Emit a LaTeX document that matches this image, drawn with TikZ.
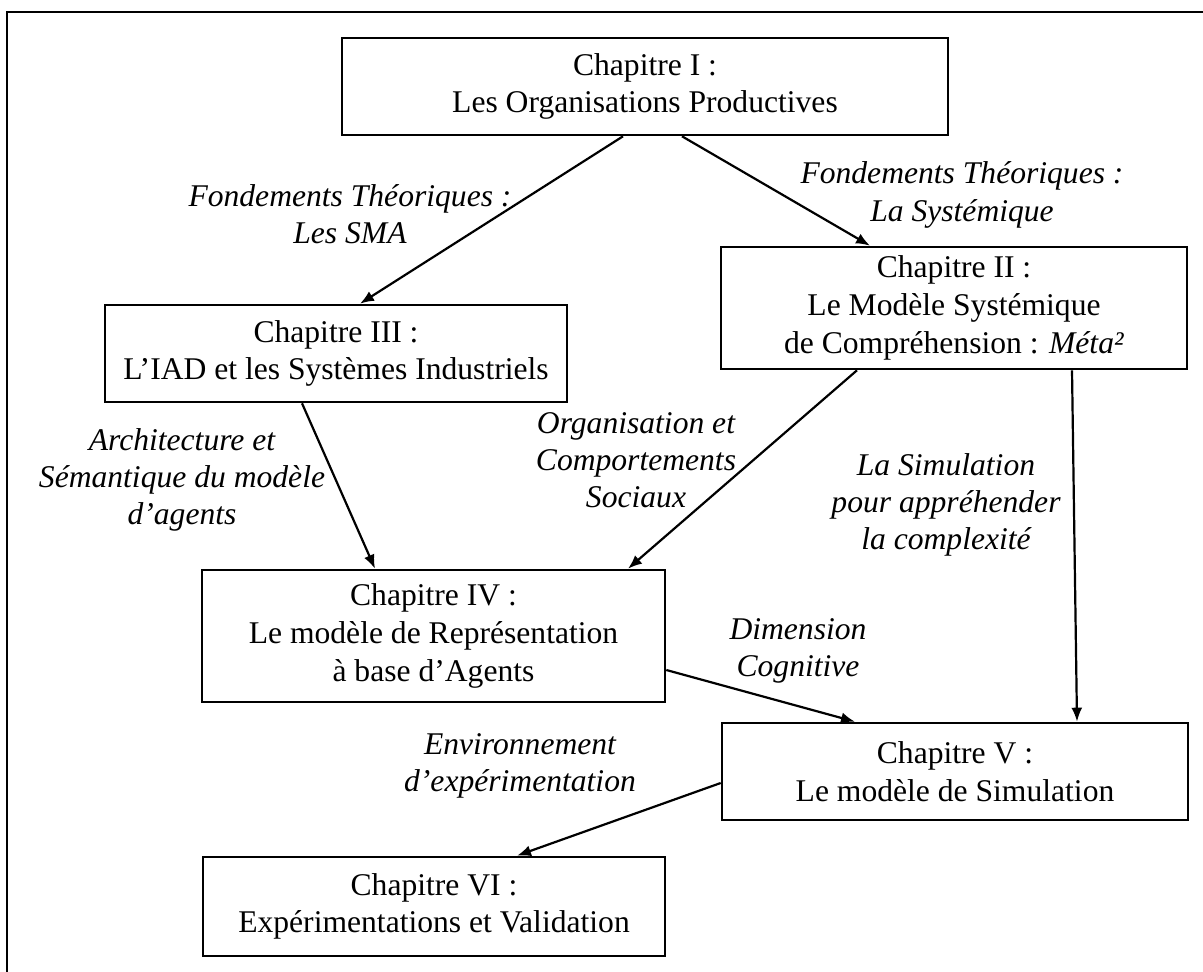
\documentclass[tikz,border=0pt]{standalone}
\usepackage{fontspec}
\setmainfont{Liberation Serif}
\usetikzlibrary{arrows.meta}

\begin{document}
\begin{tikzpicture}[x=0.5pt, y=-0.5pt,
    chap/.style={draw, line width=1.3pt, align=center, inner sep=0pt,
                 font=\fontsize{15.8}{18.8}\selectfont},
    lien/.style={align=center, inner sep=0pt,
                 font=\fontsize{15.8}{18.6}\selectfont\itshape},
    fleche/.style={-{Latex[length=7pt,width=5.5pt]}, line width=1.1pt}]

    % Page frame (only top and left sides show)
    \useasboundingbox (0,0) rectangle (1203,972);
    \draw[line width=1.4pt] (7,972) -- (7,12) -- (1203,12);

    % Chapters
    \node[chap, minimum width=303pt, minimum height=48.5pt] (ch1) at (645,86.5)
        {Chapitre I :\\Les Organisations Productives};
    \node[chap, minimum width=233pt, minimum height=61pt] (ch2) at (954,308)
        {Chapitre II :\\Le Modèle Systémique\\de Compréhension : \textit{Méta²}};
    \node[chap, minimum width=231pt, minimum height=48.5pt] (ch3) at (336,353.5)
        {Chapitre III :\\L’IAD et les Systèmes Industriels};
    \node[chap, minimum width=231.5pt, minimum height=66pt] (ch4) at (433.5,636)
        {Chapitre IV :\\Le modèle de Représentation\\à base d’Agents};
    \node[chap, minimum width=233pt, minimum height=48.5pt] (ch5) at (955,771.5)
        {Chapitre V :\\Le modèle de Simulation};
    \node[chap, minimum width=231pt, minimum height=49.5pt] (ch6) at (434,906.5)
        {Chapitre VI :\\Expérimentations et Validation};

    % Links between chapters
    \draw[fleche] ([xshift=-11pt]ch1.south) -- ([xshift=12pt]ch3.north);
    \draw[fleche] ([xshift=18.5pt]ch1.south) -- ([xshift=-42pt]ch2.north);
    \draw[fleche] ([xshift=-17pt]ch3.south) -- ([xshift=-29.25pt]ch4.north);
    \draw[fleche] ([xshift=-48.5pt]ch2.south) -- ([xshift=97.25pt]ch4.north);
    \draw[fleche] ([xshift=59pt]ch2.south) -- ([xshift=61pt]ch5.north);
    \draw[fleche] ([yshift=-17pt]ch4.east) -- ([xshift=-50pt]ch5.north);
    \draw[fleche] ([yshift=-5.75pt]ch5.west) -- ([xshift=41.5pt]ch6.north);

    % Labels
    \node[lien] (sma) at (350,214) {Fondements Théoriques :\\Les SMA};
    \node[lien] (sys) at (962,195) {Fondements Théoriques :\\La Systémique};
    \node[lien] (archi) at (182,480) {Architecture et\\Sémantique du modèle\\d’agents};
    \node[lien] (orga) at (636,460) {Organisation et\\Comportements\\Sociaux};
    \node[lien] (simu) at (946,505) {La Simulation\\pour appréhender\\la complexité};
    \node[lien] (cogn) at (798,651) {Dimension\\Cognitive};
    \node[lien] (envi) at (520,766) {Environnement\\d’expérimentation};
\end{tikzpicture}
\end{document}
